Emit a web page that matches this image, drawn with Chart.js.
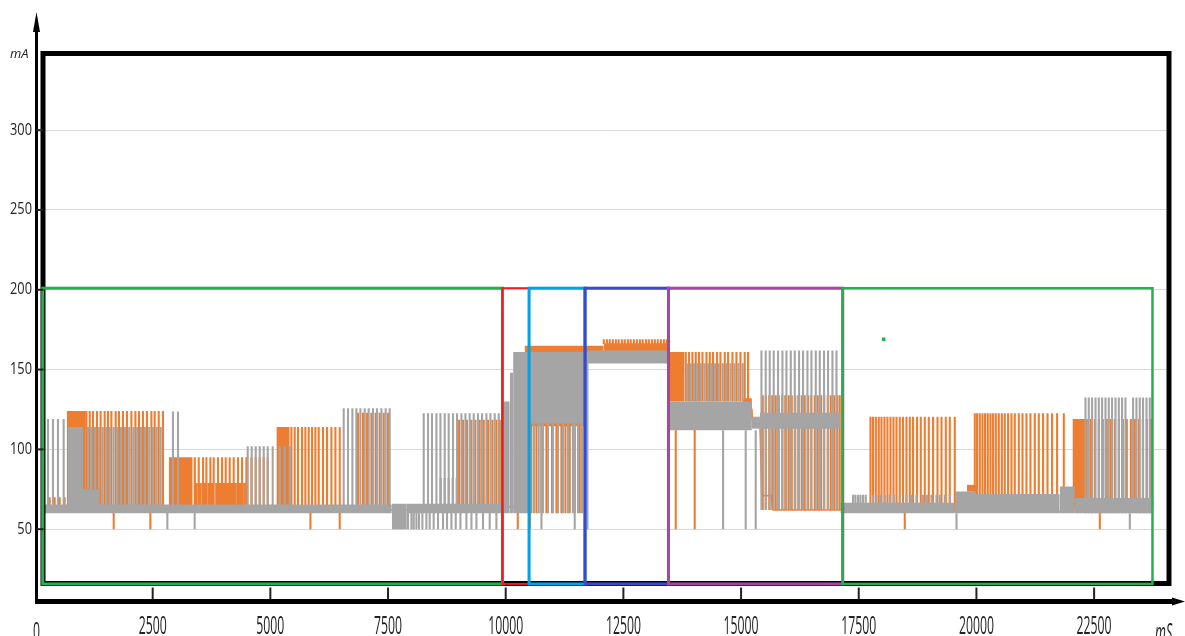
<!DOCTYPE html>
<html>
<head>
<meta charset="utf-8">
<script src="https://cdn.jsdelivr.net/npm/chart.js@4.4.0/dist/chart.umd.min.js"></script>
<style>
  body { margin: 0; background: #fff; }
  #wrap { width: 1185px; height: 636px; }
</style>
</head>
<body>
<div id="wrap"><canvas id="chart" width="1185" height="636"></canvas></div>
<script>
// time in mS, current in mA
const xTicks = [0, 2500, 5000, 7500, 10000, 12500, 15000, 17500, 20000, 22500];
const yTicks = [50, 100, 150, 200, 250, 300];

// dense parts: [start, end, low, high]
const orangeBands = [
  [673, 1078, 62, 124],
  [2840, 3350, 62, 95],
  [5128, 5411, 62, 114],
  [10400, 11690, 115, 165],
  [11700, 12080, 154, 165],
  [12080, 13440, 154, 166.5],
  [13470, 13800, 130, 161],
  [15030, 15230, 119.6, 132],
  [19800, 20010, 73.5, 77.8],
  [22040, 22310, 62, 119]
];

// spikes: [base, peak, times]
const orangeSpikes = [
  [62, 70, [312, 418, 524, 630]],
  [62, 124, [1091, 1162, 1232, 1317, 1395, 1480, 1550, 1623, 1714, 1784, 1869, 1954, 2048, 2133, 2209, 2294, 2379, 2473, 2543, 2628, 2719]],
  [62, 95, [3395, 3478, 3570, 3641, 3726, 3796, 3888, 3973, 4051, 4136, 4221, 4313, 4398, 4491, 4598, 4688, 4773, 4858, 4943]],
  [62, 79, [3430, 3520, 3600, 3690, 3760, 3850, 3930, 4010, 4095, 4180, 4265, 4355, 4445]],
  [62, 114, [5447, 5517, 5587, 5672, 5744, 5815, 5885, 5957, 6027, 6119, 6204, 6297, 6382, 6474]],
  [62, 123, [6863, 6968, 7054, 7147, 7238, 7323, 7408, 7500]],
  [62, 82, [8619, 8704, 8789, 8874, 8959]],
  [62, 118.5, [9008, 9093, 9178, 9271, 9356, 9448, 9533, 9624, 9718, 9803, 9874]],
  [62, 50, [1672, 2451, 5851, 6473]],
  [115, 60, [10546, 10653, 10759, 10865, 10984, 11078, 11184, 11269, 11360, 11466, 11573]],
  [115, 50, [10256, 10511]],
  [166, 169, [12083, 12150, 12210, 12276, 12340, 12400, 12468, 12530, 12595, 12655, 12722, 12786, 12850, 12910, 12978, 13040, 13105, 13168, 13230, 13296, 13360, 13420]],
  [130, 161, [13825, 13895, 13967, 14037, 14107, 14180, 14265, 14335, 14405, 14490, 14562, 14654, 14724, 14817, 14902, 14987, 15078, 15148]],
  [120, 50, [13612, 14015]],
  [62, 134, [15461, 15525, 15599, 15663, 15737, 15801, 15875, 15939, 16013, 16077, 16151, 16215, 16289, 16352, 16427, 16491, 16565, 16629, 16703, 16767, 16841, 16905, 16980, 17043, 17096]],
  [61, 120.5, [17749, 17804, 17862, 17925, 17983, 18046, 18110, 18174, 18238, 18302, 18371, 18441, 18514, 18584, 18654, 18739, 18818, 18903, 18988, 19079, 19173, 19258, 19349, 19434, 19540]],
  [61, 122.7, [19965, 20014, 20071, 20129, 20184, 20241, 20298, 20354, 20411, 20475, 20539, 20602, 20673, 20745, 20815, 20900, 20979, 21063, 21148, 21240, 21325, 21416, 21510, 21607, 21714, 21856]],
  [61, 119, [22345, 22430, 22515, 22600, 22685, 22770, 22855, 22940, 23025, 23110, 23195, 23280, 23365, 23450, 23535, 23620, 23705]],
  [61, 50, [18478, 22621]]
];

const orangeBase = [[200, 62], [9880, 62], [9900, 64], [10400, 64], [10400, 115], [11700, 115], [11700, 160], [13450, 160],
  [13460, 125], [15230, 125], [15240, 118], [15400, 118], [15440, 71], [15640, 71], [15680, 62], [17150, 62],
  [17180, 61], [23720, 61], [23750, 67]];

const grayBands = [
  [200, 7580, 60, 65.5],
  [700, 1020, 61, 114],
  [1020, 1380, 61, 75],
  [7580, 7900, 50, 66],
  [7900, 9940, 60, 66],
  [9940, 10086, 60, 130],
  [10086, 10157, 60, 148],
  [10157, 10490, 60, 161],
  [10490, 11700, 116, 161],
  [11740, 13450, 154, 162],
  [13440, 13460, 112, 162],
  [13460, 15230, 112, 130],
  [15230, 15400, 113, 120.5],
  [15400, 17110, 113, 123],
  [17110, 19540, 60, 66.5],
  [19540, 19990, 60, 73.6],
  [19990, 21770, 60, 72],
  [21770, 22090, 60, 76.7],
  [22090, 23740, 60, 69.6]
];

const graySpikes = [
  [62, 119, [276, 382, 488, 609]],
  [62, 114, [1125, 1198, 1274, 1357, 1438, 1516, 1587, 1669, 1750, 1827, 1912, 2001, 2090, 2171, 2252, 2336, 2426, 2506, 2585, 2670]],
  [62, 123.7, [2931, 3038]],
  [62, 102, [4519, 4604, 4689, 4774, 4859, 4944, 5050, 5199, 5305, 5411]],
  [62, 125.8, [6558, 6650, 6743, 6828, 6913, 7004, 7089, 7181, 7266, 7359, 7450, 7535]],
  [62, 122.7, [8258, 8350, 8434, 8528, 8613, 8704, 8789, 8881, 8966, 9059, 9144, 9235, 9320, 9412, 9497, 9590, 9675, 9766, 9851]],
  [62, 50, [2812, 3392, 7925, 7997, 8046, 8103, 8158, 8230, 8315, 8385, 8470, 8562, 8668, 8753, 8847, 8938, 9038, 9165, 9272, 9378, 9518, 9660, 9802]],
  [116, 60, [10511, 10601, 10701, 10793, 10899, 11005, 11111, 11218, 11324, 11430, 11536, 11621]],
  [116, 50, [10759, 11466]],
  [161, 50, [11736]],
  [130, 154, [13861, 13931, 14001, 14073, 14143, 14222, 14299, 14371, 14447, 14526, 14611, 14689, 14774, 14860, 14945, 15036]],
  [112, 50, [14618, 15099, 15311]],
  [62, 162, [15433, 15524, 15609, 15694, 15786, 15879, 15964, 16056, 16141, 16232, 16317, 16410, 16495, 16587, 16672, 16763, 16848, 16941, 17027]],
  [61, 71.5, [17380, 17430, 17486, 17537, 17592, 17649, 17804, 17877, 17962, 18053, 18159, 18244, 18371, 18514, 18620, 18726, 18867, 18952, 19045, 19151, 19222, 19328, 19434]],
  [60, 132.5, [22317, 22387, 22457, 22530, 22600, 22670, 22742, 22812, 22882, 22955, 23025, 23095, 23167, 23328, 23400, 23470, 23540, 23613, 23683]],
  [60, 50, [19577, 23259]]
];

// marked windows on the time axis
const zoneStarts = [164, 9930, 10496, 11685, 13458, 17160];
const zoneEnds = [9930, 10496, 11685, 13458, 17160, 23740];
const zoneTop = 201;
const zoneBottom = 15.7;
const markerPoint = [{x: 18030, y: 169}];

const ORANGE = '#ed7d31';
const GRAY = '#a5a5a5';
const zoneColors = ['#22b14c', '#ed1c24', '#00a2e8', '#3f48cc', '#a349a4', '#22b14c'];
const zoneWidths = [3, 2, 3, 3, 3, 2.5];

function bandSets(bands, color, order) {
  return bands.map(([t0, t1, low, high]) => ({
    data: [{x: t0, y: high}, {x: t1, y: high}],
    borderWidth: 0,
    borderColor: color,
    backgroundColor: color,
    pointRadius: 0,
    fill: {value: low},
    order: order
  }));
}

function spikeSet(groups, color, order) {
  const data = [];
  groups.forEach(([base, peak, times]) => {
    times.forEach(t => {
      data.push({x: t, y: base}, {x: t, y: peak}, {x: t, y: null});
    });
  });
  return {data, borderColor: color, borderWidth: 2.1, pointRadius: 0, fill: false, spanGaps: false, order: order};
}

function label(ctx, text, px, py, size, sx, align, italic) {
  ctx.save();
  ctx.translate(px, py);
  ctx.scale(sx, 1);
  ctx.font = (italic ? 'italic ' : '') + size + 'px "Open Sans", "Liberation Sans", sans-serif';
  ctx.textAlign = align;
  ctx.textBaseline = 'alphabetic';
  ctx.fillStyle = '#222';
  ctx.fillText(text, 0, 0);
  ctx.restore();
}

const decor = {
  id: 'decor',
  afterDatasetsDraw(chart) {
    const {ctx, chartArea: a, scales: {x, y}} = chart;
    ctx.save();

    // black frame
    ctx.lineWidth = 5;
    ctx.strokeStyle = '#000';
    ctx.strokeRect(a.left + 8, a.top + 1.5, a.right - a.left - 7, a.bottom - a.top - 19);

    // coloured windows
    const yT = y.getPixelForValue(zoneTop);
    const yB = y.getPixelForValue(zoneBottom);
    zoneStarts.forEach((s, i) => {
      const x0 = x.getPixelForValue(s);
      const x1 = x.getPixelForValue(zoneEnds[i]);
      ctx.lineWidth = zoneWidths[i];
      ctx.strokeStyle = zoneColors[i];
      ctx.strokeRect(x0, yT, x1 - x0, yB - yT);
    });

    // axes with arrows
    const ax = a.left + 1.5;
    const ay = a.bottom + 0.5;
    ctx.strokeStyle = '#000';
    ctx.fillStyle = '#000';
    ctx.lineWidth = 3;
    ctx.beginPath(); ctx.moveTo(ax, ay + 2); ctx.lineTo(ax, 28); ctx.stroke();
    ctx.beginPath(); ctx.moveTo(ax, 12); ctx.lineTo(ax - 3.5, 32); ctx.lineTo(ax + 3.5, 32); ctx.closePath(); ctx.fill();
    ctx.lineWidth = 5;
    ctx.beginPath(); ctx.moveTo(ax - 1.5, ay); ctx.lineTo(1176, ay); ctx.stroke();
    ctx.beginPath(); ctx.moveTo(1185, ay); ctx.lineTo(1172, ay - 4); ctx.lineTo(1172, ay + 4); ctx.closePath(); ctx.fill();

    // tick marks and labels
    ctx.lineWidth = 2;
    ctx.strokeStyle = '#222';
    yTicks.forEach(v => {
      const py = y.getPixelForValue(v);
      ctx.beginPath(); ctx.moveTo(ax, py); ctx.lineTo(ax + 7, py); ctx.stroke();
      label(ctx, String(v), 32, py + 4.5, 16, 0.8, 'right', false);
    });
    xTicks.forEach(v => {
      const px = x.getPixelForValue(v);
      if (v) {
        ctx.beginPath(); ctx.moveTo(px, ay - 14); ctx.lineTo(px, ay - 2); ctx.stroke();
      }
      label(ctx, String(v), v ? px : px + 1.5, v ? 634 : 640, 25, 0.49, 'center', false);
    });

    label(ctx, 'mA', 10, 58, 13, 1, 'left', true);
    label(ctx, 'mS', 1155, 641, 25, 0.5, 'left', true);
    ctx.restore();
  }
};

const datasets = [
  {
    data: markerPoint, showLine: false, pointStyle: 'rect', pointRadius: 2.5,
    pointBackgroundColor: '#22b14c', pointBorderWidth: 0, order: 0
  },
  ...bandSets(grayBands, GRAY, 1),
  spikeSet(graySpikes, GRAY, 1),
  ...bandSets(orangeBands, ORANGE, 2),
  spikeSet(orangeSpikes, ORANGE, 2),
  {
    data: orangeBase.map(([t, v]) => ({x: t, y: v})),
    borderColor: ORANGE, borderWidth: 1.6, pointRadius: 0, fill: false, order: 2
  }
];

new Chart(document.getElementById('chart').getContext('2d'), {
  type: 'line',
  data: {datasets},
  options: {
    responsive: false,
    animation: false,
    events: [],
    layout: {padding: {top: 52, right: 17, left: 0, bottom: 0}},
    plugins: {legend: {display: false}, tooltip: {enabled: false}},
    scales: {
      x: {
        type: 'linear', min: 0, max: 24070,
        grid: {display: false}, border: {display: false}, ticks: {display: false},
        afterBuildTicks: s => { s.ticks = xTicks.map(v => ({value: v})); },
        afterFit: s => { s.height = 35; }
      },
      y: {
        type: 'linear', min: 5, max: 349,
        grid: {color: '#d9d9d9', drawTicks: false}, border: {display: false}, ticks: {display: false},
        afterBuildTicks: s => { s.ticks = yTicks.map(v => ({value: v})); },
        afterFit: s => { s.width = 35; }
      }
    }
  },
  plugins: [decor]
});
</script>
</body>
</html>
